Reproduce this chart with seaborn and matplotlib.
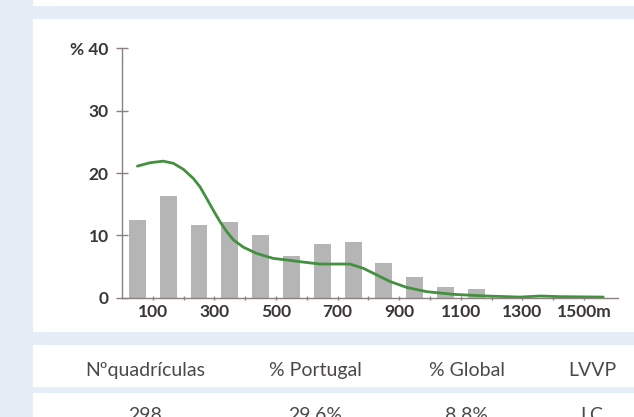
import matplotlib
matplotlib.use("Agg")
import matplotlib.pyplot as plt
import seaborn as sns
from matplotlib.patches import Rectangle

# altitude classes (m, bin centres) and % of grid squares
bin_mid = [50, 150, 250, 350, 450, 550, 650, 750, 850, 950, 1050, 1150]
bar_pct = [12.4, 16.3, 11.7, 12.1, 10.0, 6.7, 8.6, 9.0, 5.6, 3.3, 1.65, 1.4]

# green curve
curve_m = [50, 91, 134, 167, 199, 231, 253, 275, 296, 318, 340, 362, 394, 437, 491, 535,
           590, 643, 700, 740, 784, 827, 870, 924, 989, 1075, 1184, 1292, 1357, 1422, 1562]
curve_pct = [21.1, 21.65, 21.9, 21.55, 20.6, 19.15, 17.8, 15.9, 14.05, 12.2, 10.6, 9.25, 8.1, 7.1, 6.3, 6.05,
             5.7, 5.4, 5.4, 5.4, 4.7, 3.65, 2.6, 1.65, 0.97, 0.54, 0.27, 0.1, 0.27, 0.17, 0.1]

y_ticks = [0, 10, 20, 30, 40]
y_labels = ["0", "10", "20", "30", "% 40"]
x_ticks = list(range(100, 1600, 100))
x_labels = ["100", "", "300", "", "500", "", "700", "", "900", "", "1100", "", "1300", "", "1500m"]

headers = ["Nºquadrículas", "% Portugal", "% Global", "LVVP"]
values = ["298", "29.6%", "8.8%", "LC"]
col_x = [145, 315, 467, 592]

sns.set_theme(style="white")
plt.rcParams['font.family'] = ['Lato', 'DejaVu Sans']

W, H = 634, 417
BG = '#e5edf6'
AX = '#8a8080'
fig = plt.figure(figsize=(W / 100, H / 100), dpi=100, facecolor=BG)


def frac(x0, y0, x1, y1):
    return [x0 / W, 1 - y1 / H, (x1 - x0) / W, (y1 - y0) / H]


# white panels on the blue page
for x0, y0, x1, y1 in [(33, 0, 634, 6), (33, 19, 634, 332), (33, 345, 634, 387), (33, 393, 634, 417)]:
    l, b, w, h = frac(x0, y0, x1, y1)
    fig.patches.append(Rectangle((l, b), w, h, transform=fig.transFigure,
                                 facecolor='white', edgecolor='none', zorder=-1))

ax = fig.add_axes(frac(122, 48.3, 618, 297.7))
ax.set_facecolor('none')

sns.barplot(x=bin_mid, y=bar_pct, native_scale=True, width=0.55, color='#b5b5b5',
            saturation=1, edgecolor='none', ax=ax)
sns.lineplot(x=curve_m, y=curve_pct, color='#43903f', linewidth=2, ax=ax, clip_on=False)

ax.set_xlim(0, 1610)
ax.set_ylim(0, 40)
ax.set_xlabel('')
ax.set_ylabel('')
for s in ['top', 'right']:
    ax.spines[s].set_visible(False)
for s in ['left', 'bottom']:
    ax.spines[s].set_color(AX)
    ax.spines[s].set_linewidth(1)
ax.spines['left'].set_bounds(0, 40)

ax.set_yticks(y_ticks)
ax.set_yticklabels(y_labels)
ax.set_xticks(x_ticks)
ax.set_xticklabels(x_labels)
ax.tick_params(axis='y', direction='inout', length=9, width=1, color=AX,
               labelsize=12.5, labelcolor='#3b3535', pad=5, left=True)
ax.tick_params(axis='x', direction='inout', length=3.5, width=1, color=AX,
               labelsize=12.5, labelcolor='#3b3535', pad=3, bottom=True)
plt.setp(ax.get_xticklabels() + ax.get_yticklabels(), fontweight='bold')

for x, h, v in zip(col_x, headers, values):
    fig.text(x / W, 1 - 376 / H, h, ha='center', va='baseline', fontsize=14, color='#4d4848')
    fig.text(x / W, 1 - 421 / H, v, ha='center', va='baseline', fontsize=14, color='#4d4848')

fig.savefig('out.png', dpi=100, facecolor=BG)
